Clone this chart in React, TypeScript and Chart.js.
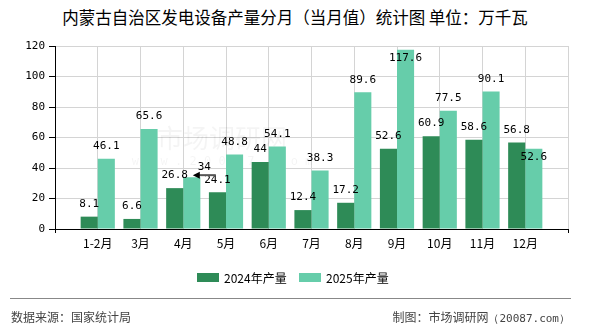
import React, { useEffect, useRef } from "react";
import { Chart, registerables } from "chart.js";

Chart.register(...registerables);

// Monthly output of power-generation equipment, Inner Mongolia (10k kW)
const months = ["1-2月", "3月", "4月", "5月", "6月", "7月", "8月", "9月", "10月", "11月", "12月"];
const output2024 = [8.1, 6.6, 26.8, 24.1, 44, 12.4, 17.2, 52.6, 60.9, 58.6, 56.8];
const output2025 = [46.1, 65.6, 34, 48.8, 54.1, 38.3, 89.6, 117.6, 77.5, 90.1, 52.6];
const seriesNames = ["2024年产量", "2025年产量"];
const seriesColors = ["#2E8B57", "#66CDAA"];
const yTicks = [0, 20, 40, 60, 80, 100, 120];

// Empty slots at both ends keep a full category gap beside each axis edge
const axisLabels = ["", ...months, ""];
const pad = (arr: number[]) => [null, ...arr, null];

// Labels that are moved to avoid overlapping a neighbour
const labelAdjust: Record<string, { dx: number; dy: number; leader?: boolean }> = {
  "2025年产量|4月": { dx: 12.5, dy: -10.5, leader: true },
  "2025年产量|12月": { dx: 0, dy: 8 },
};

const MONO = '"DejaVu Sans Mono", "Liberation Mono", monospace';
const CJK = '"Noto Sans CJK SC", "Noto Sans", sans-serif';

const watermarkPlugin = {
  id: "watermark",
  beforeDatasetsDraw(chart: any) {
    const { ctx } = chart;
    ctx.save();
    ctx.fillStyle = "rgba(0,0,0,0.045)";
    ctx.textAlign = "center";
    ctx.textBaseline = "middle";
    ctx.font = `26px ${CJK}`;
    ctx.fillText("市场调研网", 222, 138);
    ctx.font = `12px ${MONO}`;
    ctx.fillText("w w w . 2 0 0 8 7 . c o m", 222, 162);
    ctx.restore();
  },
};

const valueLabelPlugin = {
  id: "valueLabels",
  afterDatasetsDraw(chart: any) {
    const { ctx, chartArea } = chart;
    ctx.save();
    ctx.font = `11px ${MONO}`;
    ctx.fillStyle = "#000";
    ctx.textAlign = "center";
    ctx.textBaseline = "middle";
    chart.data.datasets.forEach((ds: any, di: number) => {
      const meta = chart.getDatasetMeta(di);
      meta.data.forEach((bar: any, i: number) => {
        const v = ds.data[i];
        if (v == null) return;
        const key = `${ds.label}|${chart.data.labels[i]}`;
        const adj = labelAdjust[key];
        let x = bar.x;
        let y = bar.y - 12.5;
        if (y - 6 < chartArea.top) y = bar.y + 8;
        if (adj) {
          x = bar.x + adj.dx;
          y = bar.y + adj.dy;
          if (adj.leader) {
            const ly = bar.y - 2;
            ctx.strokeStyle = "#555";
            ctx.lineWidth = 2;
            ctx.beginPath();
            ctx.moveTo(bar.x + 6, ly);
            ctx.lineTo(bar.x + 24, ly);
            ctx.stroke();
            ctx.fillStyle = "#000";
            ctx.beginPath();
            ctx.moveTo(bar.x + 1, ly);
            ctx.lineTo(bar.x + 8, ly - 3.5);
            ctx.lineTo(bar.x + 8, ly + 3.5);
            ctx.closePath();
            ctx.fill();
          }
        }
        ctx.fillStyle = "#000";
        ctx.fillText(String(v), x, y);
      });
    });
    ctx.restore();
  },
};

export default function App() {
  const canvasRef = useRef<HTMLCanvasElement | null>(null);

  useEffect(() => {
    if (!canvasRef.current) return;
    const chart = new Chart(canvasRef.current, {
      type: "bar",
      data: {
        labels: axisLabels,
        datasets: [
          {
            label: seriesNames[0],
            data: pad(output2024) as any,
            backgroundColor: seriesColors[0],
            categoryPercentage: 0.8,
            barPercentage: 1,
          },
          {
            label: seriesNames[1],
            data: pad(output2025) as any,
            backgroundColor: seriesColors[1],
            categoryPercentage: 0.8,
            barPercentage: 1,
          },
        ],
      },
      options: {
        responsive: false,
        animation: false,
        devicePixelRatio: 1,
        layout: { padding: { left: 0, top: 46, right: 22, bottom: 0 } },
        plugins: {
          legend: { display: false },
          title: { display: false },
          tooltip: { enabled: false },
        },
        scales: {
          x: {
            type: "category",
            offset: false,
            grid: {
              offset: false,
              color: "#d4d4d4",
              lineWidth: 1,
              tickLength: 4,
              tickColor: (c: any) =>
                c.index === 0 || c.index === axisLabels.length - 1 ? "#000" : "rgba(0,0,0,0)",
            },
            border: { color: "#000", width: 1 },
            ticks: {
              autoSkip: false,
              maxRotation: 0,
              padding: 3,
              color: "#000",
              font: { family: CJK, size: 12 },
            },
            afterFit: (s: any) => {
              s.height = 101;
            },
          },
          y: {
            min: 0,
            max: 120,
            afterBuildTicks: (s: any) => {
              s.ticks = yTicks.map((v) => ({ value: v }));
            },
            grid: { color: "#d4d4d4", lineWidth: 1, tickLength: 6, tickColor: "#000" },
            border: { color: "#000", width: 1 },
            ticks: {
              padding: 4,
              color: "#000",
              font: { family: MONO, size: 11 },
            },
            afterFit: (s: any) => {
              s.width = 55;
            },
          },
        },
      },
      plugins: [watermarkPlugin, valueLabelPlugin],
    });
    return () => chart.destroy();
  }, []);

  const abs = (o: React.CSSProperties): React.CSSProperties => ({ position: "absolute", ...o });

  return (
    <div style={abs({ left: 0, top: 0, width: 590, height: 330, background: "#fff", overflow: "hidden" })}>
      <div
        style={abs({
          left: 0,
          top: 7,
          width: 590,
          height: 20,
          lineHeight: "20px",
          textAlign: "center",
          fontFamily: CJK,
          fontSize: 16.5,
          color: "#000",
          whiteSpace: "nowrap",
        })}
      >
        内蒙古自治区发电设备产量分月（当月值）统计图 单位：万千瓦
      </div>
      <canvas ref={canvasRef} width={590} height={330} style={abs({ left: 0, top: 0 })} />
      {seriesNames.map((name, i) => (
        <React.Fragment key={name}>
          <div
            style={abs({
              left: i === 0 ? 197 : 299,
              top: 273,
              width: 22,
              height: 9,
              background: seriesColors[i],
            })}
          />
          <div
            style={abs({
              left: i === 0 ? 224 : 326,
              top: 270,
              height: 16,
              lineHeight: "16px",
              fontFamily: CJK,
              fontSize: 12,
              color: "#000",
              whiteSpace: "nowrap",
            })}
          >
            {name}
          </div>
        </React.Fragment>
      ))}
      <div style={abs({ left: 10, top: 298, width: 561, height: 1, background: "#888" })} />
      <div
        style={abs({
          left: 11,
          top: 309,
          height: 16,
          lineHeight: "16px",
          fontFamily: CJK,
          fontSize: 12,
          color: "#444",
          whiteSpace: "nowrap",
        })}
      >
        数据来源：国家统计局
      </div>
      <div
        style={abs({
          right: 20,
          top: 309,
          height: 16,
          lineHeight: "16px",
          fontFamily: CJK,
          fontSize: 12,
          color: "#444",
          whiteSpace: "nowrap",
        })}
      >
        制图：市场调研网<span style={{ fontFamily: MONO, fontSize: 11 }}>（20087.com）</span>
      </div>
    </div>
  );
}
